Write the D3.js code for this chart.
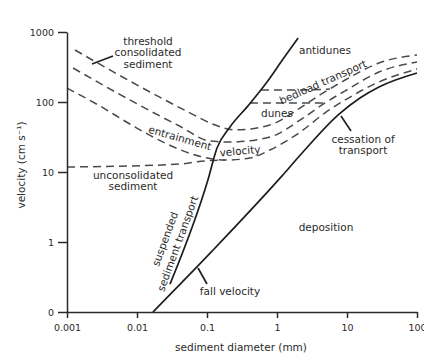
<!DOCTYPE html>
<html>
<head>
<meta charset="utf-8">
<script src="https://cdn.jsdelivr.net/npm/d3@7"></script>
<style>
  body { margin: 0; background: #fff; }
  svg text { font-family: "DejaVu Sans", sans-serif; fill: #2a2a2a; }
</style>
</head>
<body>
<script>
// axis ticks
const diameterTicks = [0.001, 0.01, 0.1, 1, 10, 100];
const diameterTickLabels = ['0.001', '0.01', '0.1', '1', '10', '100'];
const velocityTicks = [0.1, 1, 10, 100, 1000];
const velocityTickLabels = ['0', '1', '10', '100', '1000'];

// curves: [sediment diameter (mm), velocity (cm/s)]
const thresholdConsolidated = [
  [0.0013, 553], [0.0041, 287], [0.0153, 139], [0.057, 70], [0.13, 47],
  [0.25, 40], [0.79, 47], [2.13, 82], [4.1, 126], [9.4, 206], [28.6, 361], [100, 469]
];
const entrainmentUpper = [
  [0.00122, 306], [0.0079, 107], [0.041, 45], [0.11, 27.7], [0.213, 26.8],
  [0.79, 31.6], [2.13, 55], [4.85, 97], [9.4, 144], [28.6, 268], [100, 373]
];
const entrainmentLower = [
  [0.001, 158], [0.00296, 87.7], [0.0079, 48.5], [0.025, 26], [0.0675, 17.5],
  [0.18, 14.8], [0.41, 15.8], [0.79, 20.6], [2.13, 37], [4.85, 70], [9.4, 107],
  [28.6, 193], [100, 296]
];
const unconsolidated = [
  [0.001, 11.8], [0.0079, 12.2], [0.041, 13.0], [0.094, 14.4], [0.18, 14.8]
];
const bedloadUpper = [[0.59, 148], [2.5, 149], [5.7, 153]];
const dunesUpper = [[0.41, 97], [2.0, 97], [4.85, 97]];
const suspendedTransport = [
  [0.0296, 0.25], [0.103, 7.7], [0.139, 22], [0.213, 44], [0.385, 88],
  [0.72, 193], [1.22, 411], [2.0, 820]
];
const fallVelocity = [
  [0.0169, 0.1], [0.118, 0.74], [1.18, 8.8], [2.35, 19.3], [7.7, 67],
  [15.3, 114], [28.6, 164], [100, 260]
];

const width = 424, height = 356;

const x = d3.scaleLog().domain([0.001, 100]).range([67, 417]);
const y = d3.scaleLog().domain([0.1, 1000]).range([312, 32]);

const svg = d3.select('body').append('svg')
  .attr('width', width)
  .attr('height', height);

const line = d3.line()
  .x(p => x(p[0]))
  .y(p => y(p[1]))
  .curve(d3.curveMonotoneX);

// dashed thresholds
const dashed = [thresholdConsolidated, entrainmentUpper, entrainmentLower,
  unconsolidated, bedloadUpper, dunesUpper];

svg.append('g').selectAll('path')
  .data(dashed)
  .join('path')
  .attr('d', line)
  .attr('fill', 'none')
  .attr('stroke', '#4a4a4a')
  .attr('stroke-width', 1.5)
  .attr('stroke-dasharray', '8,5');

// solid lines
svg.append('g').selectAll('path')
  .data([suspendedTransport, fallVelocity])
  .join('path')
  .attr('d', line)
  .attr('fill', 'none')
  .attr('stroke', '#1e1e1e')
  .attr('stroke-width', 1.7);

// axes
const xAxis = d3.axisBottom(x)
  .tickValues(diameterTicks)
  .tickFormat((d, i) => diameterTickLabels[i])
  .tickSize(6)
  .tickSizeOuter(0)
  .tickPadding(6);

const yAxis = d3.axisLeft(y)
  .tickValues(velocityTicks)
  .tickFormat((d, i) => velocityTickLabels[i])
  .tickSize(9)
  .tickSizeOuter(0)
  .tickPadding(4);

const styleAxis = g => {
  g.selectAll('path, line').attr('stroke', '#2a2a2a').attr('stroke-width', 1.5);
  g.selectAll('text').attr('font-size', 9.5).attr('fill', '#2a2a2a')
    .attr('font-family', '"DejaVu Sans", sans-serif');
};

svg.append('g')
  .attr('transform', `translate(0,${y(0.1)})`)
  .call(xAxis)
  .call(styleAxis);

svg.append('g')
  .attr('transform', `translate(${x(0.001)},0)`)
  .call(yAxis)
  .call(styleAxis);

// axis titles
svg.append('text')
  .attr('x', 241).attr('y', 351)
  .attr('text-anchor', 'middle')
  .attr('font-size', 10.5)
  .text('sediment diameter (mm)');

svg.append('text')
  .attr('transform', 'translate(25,165) rotate(-90)')
  .attr('text-anchor', 'middle')
  .attr('font-size', 10.5)
  .text('velocity (cm s⁻¹)');

// annotations (pixel layout, y = centre of first line)
const annotations = [
  { lines: ['threshold', 'consolidated', 'sediment'], x: 148, y: 41, lh: 11.5 },
  { lines: ['unconsolidated', 'sediment'], x: 133, y: 175, lh: 11 },
  { lines: ['cessation of', 'transport'], x: 363, y: 139, lh: 11 },
  { lines: ['antidunes'], x: 325, y: 50 },
  { lines: ['dunes'], x: 277, y: 113 },
  { lines: ['deposition'], x: 326, y: 227 },
  { lines: ['fall velocity'], x: 230, y: 291 },
  { lines: ['entrainment'], x: 180, y: 138, rotate: 16 },
  { lines: ['velocity'], x: 240, y: 151, rotate: -5 },
  { lines: ['bedload transport'], x: 323, y: 82, rotate: -24 },
  { lines: ['suspended', 'sediment transport'], x: 165, y: 239, lh: 13.5, rotate: -70 }
];

annotations.forEach(a => {
  const lh = a.lh || 11;
  const t = svg.append('text')
    .attr('transform', `translate(${a.x},${a.y}) rotate(${a.rotate || 0})`)
    .attr('text-anchor', 'middle')
    .attr('font-size', 10.5);
  a.lines.forEach((s, i) => {
    t.append('tspan')
      .attr('x', 0)
      .attr('y', i * lh)
      .attr('dy', '0.35em')
      .text(s);
  });
});

// leader lines
const leaders = [
  [[92, 64], [113, 56]],
  [[341, 116], [351, 131]],
  [[198, 268], [207, 284]]
];

svg.append('g').selectAll('line')
  .data(leaders)
  .join('line')
  .attr('x1', d => d[0][0]).attr('y1', d => d[0][1])
  .attr('x2', d => d[1][0]).attr('y2', d => d[1][1])
  .attr('stroke', '#1e1e1e')
  .attr('stroke-width', 1.6);
</script>
</body>
</html>
